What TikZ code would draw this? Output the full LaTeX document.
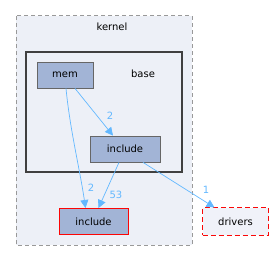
\documentclass[tikz,border=0pt]{standalone}
\usepackage{fontspec}
\setmainfont{DejaVu Sans}
\usetikzlibrary{arrows.meta}
\definecolor{edgec}{HTML}{63B8FF}
\definecolor{clfill}{HTML}{EDF0F7}
\definecolor{nodefill}{HTML}{A2B4D6}
\definecolor{redc}{rgb}{0.99,0.02,0.02}
\definecolor{redd}{rgb}{0.98,0.03,0.03}
\definecolor{drvfill}{HTML}{F0F2F9}
\tikzset{
  dir/.style={fill=nodefill, inner sep=0pt, font=\fontsize{10}{12}\selectfont},
  dep/.style={-{Triangle[length=8pt,width=8pt]}, draw=edgec, line width=0.7pt},
  lbl/.style={text=edgec, font=\fontsize{10}{12}\selectfont, inner sep=0pt},
}
\begin{document}
\begin{tikzpicture}[x=1pt,y=-1pt]
\useasboundingbox (0,0) rectangle (275,261);
% kernel cluster
\draw[draw=black!40, fill=clfill, dashed, dash pattern=on 4pt off 3pt, line width=1pt] (16,16) rectangle (192,245);
\node[font=\fontsize{10}{12}\selectfont] (kl) at (112,27) {kernel};
% base cluster
\draw[draw=black!75, fill=clfill, line width=1.5pt] (26,52) rectangle (182,172);
\node[font=\fontsize{10}{12}\selectfont] (bl) at (143,74) {base};
% nodes
\node[dir, draw=black!60, line width=0.8pt, minimum width=56pt, minimum height=26pt] (mem) at (65,75) {mem};
\node[dir, draw=black!60, line width=0.8pt, minimum width=70pt, minimum height=26pt] (binc) at (125,149) {include};
\node[dir, draw=redc, line width=1pt, minimum width=69pt, minimum height=26pt] (kinc) at (93.5,221.5) {include};
\node[fill=drvfill, draw=redd, line width=1pt, dash pattern=on 5pt off 3pt, minimum width=66pt, minimum height=27pt, inner sep=0pt, font=\fontsize{10}{12}\selectfont] (drv) at (235.5,221.5) {drivers};
% edges
\draw[dep] ([xshift=10pt]mem.south) -- ([xshift=-12pt]binc.north);
\node[lbl] at (110,116) {2};
\draw[dep] ([xshift=1pt]mem.south) .. controls (70,130) and (80,170) .. ([xshift=-8pt]kinc.north);
\node[lbl] at (91,188) {2};
\draw[dep] ([xshift=-6pt]binc.south) -- ([xshift=5pt]kinc.north);
\node[lbl] at (116,195) {53};
\draw[dep] ([xshift=18pt]binc.south) -- ([xshift=-21pt]drv.north);
\node[lbl] at (206,190) {1};
\end{tikzpicture}
\end{document}
